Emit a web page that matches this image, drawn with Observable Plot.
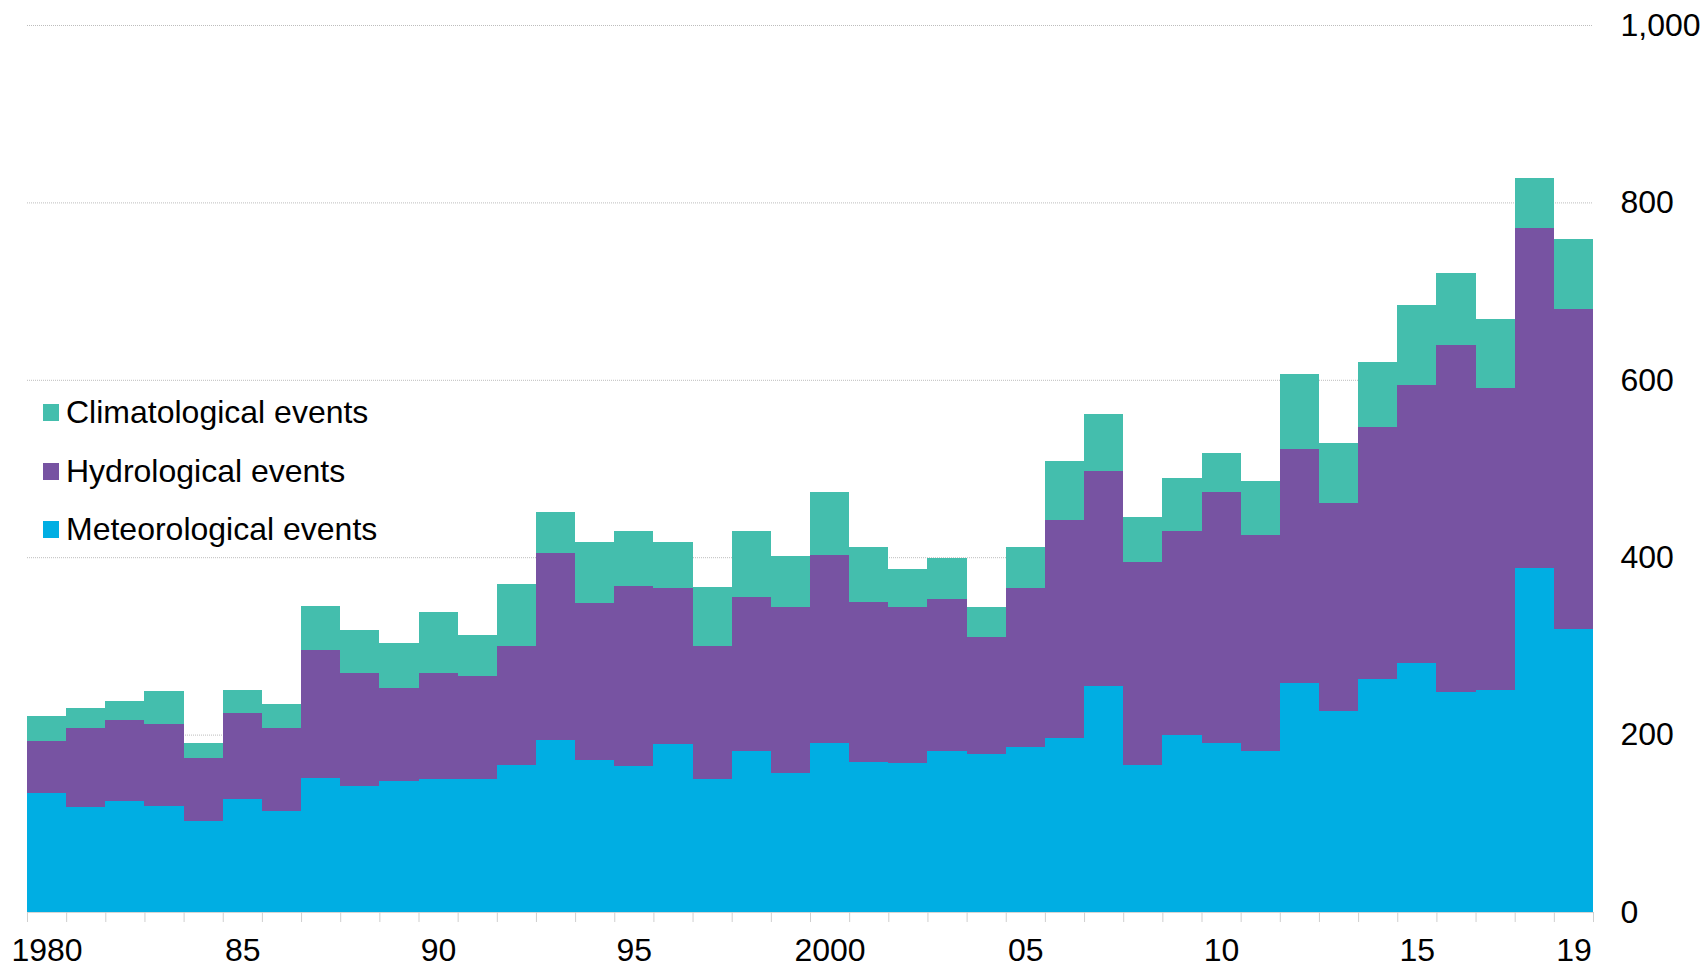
<!DOCTYPE html>
<html>
<head>
<meta charset="utf-8">
<script src="https://cdn.jsdelivr.net/npm/d3@7"></script>
<script src="https://cdn.jsdelivr.net/npm/@observablehq/plot@0.6"></script>
<style>
  html, body { margin: 0; padding: 0; background: #fff; }
  #wrap { position: relative; width: 1704px; height: 966px; font-family: "Liberation Sans", Arial, sans-serif; }
  #legend { position: absolute; left: 43px; top: 383px; }
  .row { display: flex; align-items: center; height: 58.7px; font-size: 32px; color: #000; white-space: nowrap; }
  .sw { width: 16px; height: 17px; margin-right: 7px; flex: none; }
</style>
</head>
<body>
<div id="wrap"><div id="legend"></div></div>
<script>
// ---- data ----
const years = [1980,1981,1982,1983,1984,1985,1986,1987,1988,1989,
               1990,1991,1992,1993,1994,1995,1996,1997,1998,1999,
               2000,2001,2002,2003,2004,2005,2006,2007,2008,2009,
               2010,2011,2012,2013,2014,2015,2016,2017,2018,2019];
const meteorological = [134,118,125,120,103,127,114,151,142,148,
                        150,150,166,194,171,165,189,150,182,157,
                        191,169,168,182,178,186,196,255,166,200,
                        191,182,258,227,263,281,248,250,388,319];
const hydrological   = [59,90,91,92,71,97,94,144,127,105,
                        119,116,134,211,177,203,176,150,173,187,
                        211,181,176,171,132,179,246,242,229,229,
                        282,243,264,234,284,313,391,341,383,361];
const climatological = [28,22,22,37,16,26,26,50,49,50,
                        69,46,70,46,69,62,52,66,74,57,
                        72,62,43,46,34,47,67,65,50,60,
                        45,61,84,68,73,90,81,78,57,79];
const seriesNames = ["Meteorological events", "Hydrological events", "Climatological events"];
const seriesColors = ["#00aee3", "#7753a2", "#44bead"];
const yTicks = [0, 200, 400, 600, 800, 1000];
const gridValues = [200, 400, 600, 800, 1000];
const labelYears = [1980, 1985, 1990, 1995, 2000, 2005, 2010, 2015, 2019];
const labelTexts = ["1980", "85", "90", "95", "2000", "05", "10", "15", "19"];

// ---- build table ----
const seriesValues = [meteorological, hydrological, climatological];
const data = years.flatMap((yr, i) => seriesNames.map((name, s) => ({year: yr, type: name, value: seriesValues[s][i]})));
const boundaries = [...years, years[years.length - 1] + 1];
const labelMap = new Map(labelYears.map((y, i) => [y + 0.5, labelTexts[i]]));

const chart = Plot.plot({
  width: 1704,
  height: 966,
  marginLeft: 27,
  marginRight: 111,
  marginTop: 25,
  marginBottom: 54,
  style: {fontFamily: "'Liberation Sans', Arial, sans-serif", fontSize: "32px", color: "#000", background: "#fff", overflow: "visible"},
  x: {type: "linear", domain: [boundaries[0], boundaries[boundaries.length - 1]]},
  y: {domain: [0, 1000]},
  color: {domain: seriesNames, range: seriesColors},
  marks: [
    Plot.ruleY(gridValues, {stroke: "#bdbdbd", strokeDasharray: "1,1", strokeWidth: 1}),
    Plot.rectY(data, {x1: "year", x2: d => d.year + 1, y: "value", fill: "type", shapeRendering: "crispEdges"}),
    Plot.ruleY([0], {stroke: "#d6d6d6"}),
    Plot.axisX({ticks: boundaries, tickSize: 10, tickFormat: () => "", stroke: "#cfcfcf", label: null}),
    Plot.axisX({ticks: labelYears.map(y => y + 0.5), tickSize: 0, tickPadding: 26, tickFormat: d => labelMap.get(d), fontSize: 32, label: null}),
    Plot.axisY({ticks: yTicks, anchor: "right", tickSize: 0, tickPadding: 27, textAnchor: "start", tickFormat: d3.format(","), fontSize: 32, label: null})
  ]
});
const wrap = document.getElementById("wrap");
wrap.insertBefore(chart, wrap.firstChild);

// ---- legend ----
const legend = document.getElementById("legend");
[2, 1, 0].forEach(s => {
  const row = document.createElement("div");
  row.className = "row";
  const sw = document.createElement("span");
  sw.className = "sw";
  sw.style.background = seriesColors[s];
  const t = document.createElement("span");
  t.textContent = seriesNames[s];
  row.appendChild(sw);
  row.appendChild(t);
  legend.appendChild(row);
});
</script>
</body>
</html>
